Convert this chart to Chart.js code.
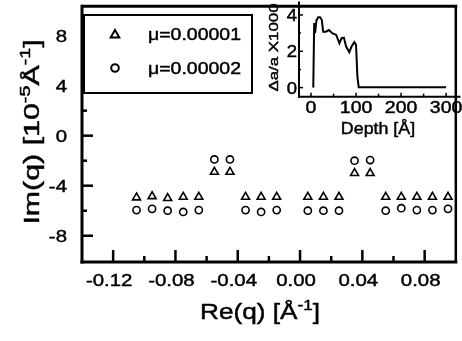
<!DOCTYPE html>
<html>
<head>
<meta charset="utf-8">
<script src="https://cdn.jsdelivr.net/npm/chart.js@4/dist/chart.umd.min.js"></script>
<style>
  html, body { margin: 0; padding: 0; background: #fff; }
  #wrap { position: relative; width: 462px; height: 341px; }
  #wrap canvas { position: absolute; left: 0; top: 0; }
</style>
</head>
<body>
<div id="wrap">
  <canvas id="main" width="462" height="341"></canvas>
  <canvas id="inset" width="462" height="341"></canvas>
</div>
<script>
// main plot: Re(q) vs Im(q)
const reQ = [-0.105, -0.095, -0.085, -0.075, -0.065, -0.055, -0.045, -0.035, -0.025, -0.015,
             0.005, 0.015, 0.025, 0.035, 0.045, 0.055, 0.065, 0.075, 0.085, 0.095];
const imQ1 = [-4.95, -4.85, -5.0, -4.9, -4.9, -2.9, -2.9, -4.9, -4.9, -4.9,
              -4.9, -4.9, -4.9, -3.0, -3.0, -4.9, -4.9, -4.9, -4.9, -4.9];
const imQ2 = [-5.95, -5.85, -6.0, -6.1, -5.95, -1.9, -1.9, -5.95, -6.1, -5.95,
              -6.0, -6.0, -6.0, -2.0, -1.95, -6.0, -5.8, -5.95, -5.95, -5.85];
const seriesLabels = ['μ=0.00001', 'μ=0.00002'];
const xTicks = [-0.12, -0.08, -0.04, 0.00, 0.04, 0.08];
const xMinor = [-0.10, -0.06, -0.02, 0.02, 0.06];
const yTicks = [8, 4, 0, -4, -8];
const yMinor = [6, 2, -2, -6];

// inset: strain profile
const depth = [5, 7, 9, 12, 16, 20, 24, 27, 33, 40, 47, 56, 63, 68, 73, 78, 85, 90, 96, 100, 103, 106, 300];
const strain = [0, 3.55, 3.0, 3.7, 3.87, 3.87, 3.72, 3.08, 3.08, 3.17, 3.0, 2.9, 2.44, 2.72, 2.75, 2.26, 1.95, 2.26, 2.5, 2.35, 0.6, 0.02, 0.02];
const insetXTicks = [0, 100, 200, 300];
const insetXMinor = [50, 150, 250];
const insetYTicks = [0, 2, 4];
const insetYMinor = [1, 3];

const FONT = '"Liberation Sans", Arial, sans-serif';

// text with optional superscript parts, stretched horizontally like the original
function drawText(ctx, parts, x, y, size, align, sx, rot) {
  ctx.save();
  ctx.translate(x, y);
  if (rot) ctx.rotate(rot);
  ctx.scale(sx, 1);
  let w = 0;
  const items = parts.map(p => {
    const t = typeof p === 'string' ? p : p[0];
    const sup = typeof p !== 'string' && p[1];
    const fs = sup ? size * 0.65 : size;
    ctx.font = fs + 'px ' + FONT;
    const it = { t, fs, sup, x: w };
    w += ctx.measureText(t).width;
    return it;
  });
  const x0 = align === 'center' ? -w / 2 : align === 'right' ? -w : 0;
  ctx.fillStyle = '#000';
  ctx.strokeStyle = '#000';
  ctx.lineWidth = 0.45;
  ctx.textAlign = 'left';
  ctx.textBaseline = 'alphabetic';
  items.forEach(it => {
    ctx.font = it.fs + 'px ' + FONT;
    const ty = it.sup ? -size * 0.4 : 0;
    ctx.fillText(it.t, x0 + it.x, ty);
    ctx.strokeText(it.t, x0 + it.x, ty);
  });
  ctx.restore();
}

function seg(ctx, x1, y1, x2, y2) {
  ctx.beginPath();
  ctx.moveTo(x1, y1);
  ctx.lineTo(x2, y2);
  ctx.stroke();
}

const mainDeco = {
  id: 'mainDeco',
  afterDraw(chart) {
    const { ctx, chartArea: a, scales: { x, y } } = chart;
    ctx.save();
    ctx.strokeStyle = '#000';
    ctx.lineWidth = 2.5;
    xTicks.forEach(v => { const px = x.getPixelForValue(v); seg(ctx, px, a.bottom, px, a.bottom - 12); });
    xMinor.forEach(v => { const px = x.getPixelForValue(v); seg(ctx, px, a.bottom, px, a.bottom - 6); });
    yTicks.forEach(v => { const py = y.getPixelForValue(v); seg(ctx, a.left, py, a.left + 11, py); });
    yMinor.forEach(v => { const py = y.getPixelForValue(v); seg(ctx, a.left, py, a.left + 5, py); });

    // frame
    ctx.lineWidth = 3;
    seg(ctx, a.left, a.top - 1.5, a.left, a.bottom + 1.5);
    seg(ctx, a.left - 1.5, a.bottom, a.right + 1.5, a.bottom);
    seg(ctx, a.left, a.top, a.right + 1.5, a.top);
    ctx.lineWidth = 2.5;
    seg(ctx, a.right, a.top, a.right, a.bottom);

    // tick labels
    xTicks.forEach(v => drawText(ctx, [v.toFixed(2)], x.getPixelForValue(v) - 4, 285.5, 17, 'center', 1.2));
    yTicks.forEach(v => drawText(ctx, [String(v)], 67, y.getPixelForValue(v) + 6, 17, 'right', 1.2));

    // axis titles
    drawText(ctx, ['Re(q) [Å', ['-1', true], ']'], 260, 318.5, 21.5, 'center', 1.22);
    drawText(ctx, ['Im(q) [10', ['-5', true], 'Å', ['-1', true], ']'], 39, 132, 22, 'center', 1.38, -Math.PI / 2);

    // legend box
    ctx.fillStyle = '#fff';
    ctx.fillRect(84, 15, 168, 78);
    ctx.strokeStyle = '#000';
    ctx.lineWidth = 2;
    ctx.strokeRect(84, 15, 168, 78);
    ctx.fillStyle = '#fff';
    Chart.helpers.drawPoint(ctx, { pointStyle: 'triangle', radius: 5, borderWidth: 1.6, rotation: 0 }, 115, 35);
    Chart.helpers.drawPoint(ctx, { pointStyle: 'circle', radius: 3.8, borderWidth: 1.6, rotation: 0 }, 115, 68);
    drawText(ctx, [seriesLabels[0]], 148, 39.5, 16.5, 'left', 1.18);
    drawText(ctx, [seriesLabels[1]], 148, 74, 16.5, 'left', 1.18);
    ctx.restore();
  }
};

new Chart(document.getElementById('main'), {
  type: 'scatter',
  data: {
    datasets: [
      {
        label: seriesLabels[0],
        data: reQ.map((v, i) => ({ x: v, y: imQ1[i] })),
        pointStyle: 'triangle',
        pointRadius: 4.6,
        pointBorderWidth: 1.6,
        pointBackgroundColor: '#fff',
        pointBorderColor: '#000'
      },
      {
        label: seriesLabels[1],
        data: reQ.map((v, i) => ({ x: v, y: imQ2[i] })),
        pointStyle: 'circle',
        pointRadius: 3.6,
        pointBorderWidth: 1.6,
        pointBackgroundColor: '#fff',
        pointBorderColor: '#000'
      }
    ]
  },
  options: {
    responsive: false,
    animation: false,
    devicePixelRatio: 1,
    layout: { padding: { left: 82, top: 1.5, right: 1.5, bottom: 79 } },
    scales: {
      x: { type: 'linear', min: -0.14, max: 0.10, display: false },
      y: { type: 'linear', min: -10.1, max: 10.35, display: false }
    },
    plugins: { legend: { display: false }, tooltip: { enabled: false } }
  },
  plugins: [mainDeco]
});

const insetDeco = {
  id: 'insetDeco',
  afterDraw(chart) {
    const { ctx, chartArea: a, scales: { x, y } } = chart;
    ctx.save();
    ctx.strokeStyle = '#000';
    ctx.lineWidth = 1.5;
    insetXTicks.forEach(v => { const px = x.getPixelForValue(v); seg(ctx, px, a.bottom, px, a.bottom - 4); });
    insetXMinor.forEach(v => { const px = x.getPixelForValue(v); seg(ctx, px, a.bottom, px, a.bottom - 3); });
    insetYTicks.forEach(v => { const py = y.getPixelForValue(v); seg(ctx, a.left, py, a.left + 4, py); });
    insetYMinor.forEach(v => { const py = y.getPixelForValue(v); seg(ctx, a.left, py, a.left + 2, py); });
    ctx.lineWidth = 2;
    seg(ctx, a.left, a.top, a.left, a.bottom + 1);
    seg(ctx, a.left - 1, a.bottom, a.right, a.bottom);

    insetXTicks.forEach(v => drawText(ctx, [String(v)], x.getPixelForValue(v), 113, 16.5, 'center', 1.18));
    insetYTicks.forEach(v => drawText(ctx, [String(v)], 297, y.getPixelForValue(v) + 6, 16.5, 'right', 1.12));
    drawText(ctx, ['Depth [Å]'], 378, 133.5, 16.5, 'center', 1.08);
    drawText(ctx, ['Δa/a X1000'], 278, 47.5, 13.5, 'center', 1.25, -Math.PI / 2);
    ctx.restore();
  }
};

new Chart(document.getElementById('inset'), {
  type: 'line',
  data: {
    datasets: [{
      data: depth.map((v, i) => ({ x: v, y: strain[i] })),
      borderColor: '#000',
      borderWidth: 2,
      pointRadius: 0,
      tension: 0,
      fill: false
    }]
  },
  options: {
    responsive: false,
    animation: false,
    devicePixelRatio: 1,
    layout: { padding: { left: 299, top: 1.5, right: 1.5, bottom: 244.3 } },
    scales: {
      x: { type: 'linear', min: -26.7, max: 332, display: false },
      y: { type: 'linear', min: -0.5, max: 4.74, display: false }
    },
    plugins: { legend: { display: false }, tooltip: { enabled: false } }
  },
  plugins: [insetDeco]
});
</script>
</body>
</html>
